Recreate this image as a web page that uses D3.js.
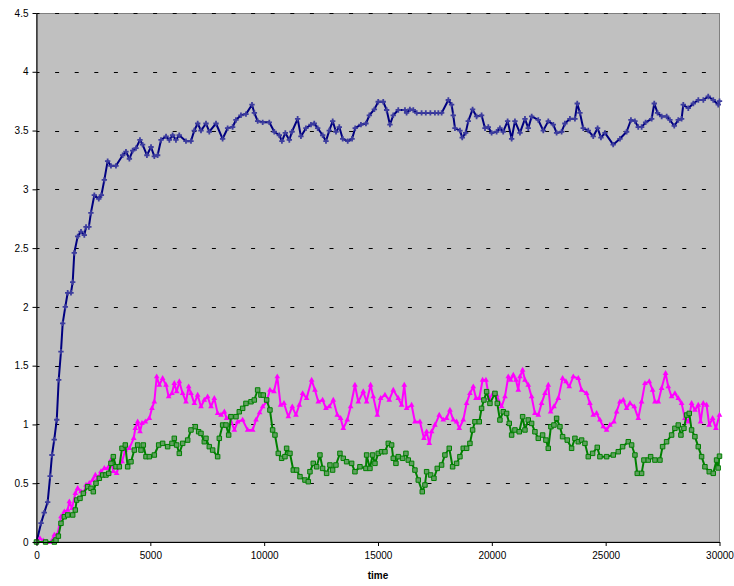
<!DOCTYPE html>
<html lang="en">
<head>
<meta charset="utf-8">
<title>time series</title>
<script src="https://d3js.org/d3.v7.min.js"></script>
<style>
  body { margin: 0; background: #fff; }
  svg text { font-family: "Liberation Sans", Arial, sans-serif; }
</style>
</head>
<body>
<svg id="chart" width="734" height="586"></svg>
<script>
// values (time, value)
var blueT = [0,200,340,490,600,680,780,890,975,1075,1150,1265,1370,1515,1590,1660,1810,1955,2100,2175,2300,2390,2540,2735,2850,2980,3125,3270,3490,3785,3930,4080,4225,4370,4545,4660,4850,5030,5175,5320,5470,5690,5835,5980,6125,6270,6565,6785,6930,7080,7225,7445,7590,7885,8175,8395,8615,8760,8980,9200,9465,9570,9715,9935,10225,10445,10665,10780,10930,11105,11220,11470,11615,11835,12055,12200,12350,12570,12715,12860,13010,13155,13300,13450,13670,13860,14000,14250,14470,14620,14840,15010,15230,15380,15525,15670,15890,16185,16256,16400,16550,16700,16915,17100,17300,17500,17650,17795,18090,18233,18306,18380,18600,18700,18850,18965,19155,19330,19550,19700,19845,19990,20210,20356,20500,20693,20870,21015,21235,21455,21600,21750,22040,22260,22480,22700,22845,23065,23210,23430,23650,23752,23870,24015,24235,24455,24645,24793,24970,25330,25627,25920,26110,26285,26430,26580,26755,27020,27135,27280,27460,27680,27820,28013,28190,28335,28410,28630,28850,29070,29290,29505,29725,29945,30000];
var blueV = [0,0.16,0.25,0.34,0.56,0.74,0.87,1.04,1.38,1.62,1.86,2.0,2.12,2.12,2.21,2.46,2.6,2.64,2.61,2.68,2.68,2.8,2.95,2.92,2.95,3.08,3.24,3.2,3.2,3.29,3.32,3.26,3.33,3.35,3.42,3.38,3.29,3.36,3.28,3.29,3.42,3.45,3.42,3.46,3.42,3.46,3.41,3.41,3.5,3.56,3.5,3.56,3.49,3.56,3.43,3.52,3.53,3.59,3.63,3.64,3.72,3.65,3.58,3.57,3.57,3.49,3.46,3.41,3.48,3.42,3.49,3.6,3.45,3.52,3.55,3.56,3.52,3.46,3.41,3.5,3.58,3.49,3.53,3.43,3.41,3.43,3.52,3.55,3.56,3.63,3.68,3.745,3.745,3.675,3.55,3.63,3.675,3.675,3.65,3.68,3.675,3.65,3.65,3.65,3.65,3.65,3.65,3.65,3.76,3.72,3.63,3.52,3.5,3.44,3.48,3.58,3.68,3.62,3.63,3.52,3.53,3.48,3.49,3.52,3.49,3.58,3.43,3.58,3.48,3.6,3.52,3.62,3.59,3.5,3.58,3.55,3.48,3.49,3.56,3.6,3.6,3.73,3.65,3.52,3.5,3.45,3.52,3.44,3.48,3.38,3.43,3.49,3.59,3.58,3.53,3.53,3.57,3.6,3.73,3.65,3.62,3.62,3.59,3.54,3.59,3.6,3.72,3.69,3.73,3.76,3.76,3.79,3.76,3.72,3.75];

var pinkT = [0,150,300,450,640,783,930,1076,1222,1370,1442,1560,1705,1808,1955,2100,2175,2320,2467,2584,2686,2833,2980,3125,3272,3375,3520,3610,3755,3900,4077,4270,4340,4443,4546,4634,4780,4956,5073,5175,5280,5395,5540,5690,5805,5950,6053,6156,6273,6420,6566,6683,6786,6932,7078,7225,7370,7517,7664,7810,7957,8103,8250,8350,8498,8690,8835,9055,9275,9495,9640,9800,9935,10108,10254,10430,10576,10723,10870,11060,11235,11396,11543,11690,11865,12085,12230,12377,12567,12714,12860,13036,13212,13358,13475,13650,13797,13987,14134,14353,14500,14675,14793,14968,15115,15305,15495,15671,15890,16037,16154,16257,16476,16622,16842,17018,17135,17252,17355,17500,17690,17867,18013,18160,18306,18453,18570,18745,18892,19038,19185,19302,19448,19595,19741,19887,20063,20210,20430,20576,20722,20825,20942,21060,21161,21235,21352,21455,21600,21747,21893,22040,22186,22333,22479,22582,22728,22918,23108,23255,23401,23577,23797,23943,24163,24309,24455,24602,24748,24895,25041,25187,25363,25480,25627,25773,25920,26066,26257,26432,26578,26725,26915,27061,27164,27310,27456,27632,27750,27896,28042,28189,28335,28481,28628,28774,28920,29067,29169,29286,29433,29550,29696,29843,30000];
var pinkV = [0,0.03,0.01,0,0,0.06,0.07,0.215,0.258,0.272,0.343,0.286,0.414,0.457,0.428,0.428,0.485,0.5,0.527,0.57,0.542,0.6,0.627,0.627,0.697,0.6,0.584,0.64,0.683,0.782,0.797,0.882,0.967,1.023,0.938,1.009,1.023,1.052,1.137,1.193,1.406,1.335,1.392,1.335,1.236,1.264,1.35,1.279,1.364,1.264,1.193,1.321,1.264,1.179,1.25,1.151,1.208,1.236,1.151,1.222,1.094,1.08,1.108,1.052,1.066,0.952,1.023,1.038,0.952,0.952,1.038,1.1,1.151,1.193,1.293,1.279,1.406,1.165,1.179,1.066,1.151,1.08,1.165,1.264,1.222,1.378,1.293,1.193,1.208,1.137,1.151,1.208,1.08,1.052,0.967,1.038,1.151,1.335,1.193,1.279,1.193,1.335,1.236,1.08,1.222,1.25,1.208,1.293,1.222,1.165,1.335,1.137,1.165,1.023,1.023,0.882,0.938,0.839,0.938,0.995,1.08,1.038,1.052,1.123,1.038,1.023,0.967,1.038,1.179,1.264,1.321,1.222,1.222,1.378,1.378,1.222,1.264,1.25,1.151,1.236,1.406,1.378,1.42,1.378,1.293,1.406,1.463,1.378,1.335,1.236,1.094,1.08,1.179,1.264,1.335,1.108,1.151,1.222,1.392,1.364,1.321,1.406,1.392,1.293,1.264,1.179,1.08,1.094,1.038,0.981,0.952,0.995,1.023,1.108,1.193,1.208,1.137,1.179,1.151,1.052,1.193,1.349,1.364,1.293,1.193,1.193,1.307,1.435,1.321,1.236,1.264,1.222,1.179,1.052,1.023,1.179,1.123,1.165,1.023,1.179,1.165,0.995,1.052,0.967,1.08];

var greenT = [0,400,783,856,960,1076,1222,1370,1590,1705,1764,1910,2057,2247,2394,2496,2613,2760,2906,3052,3170,3272,3375,3491,3638,3755,3900,4004,4150,4297,4443,4590,4692,4810,4956,5175,5366,5540,5760,5950,6053,6156,6273,6420,6640,6786,6976,7122,7225,7370,7444,7590,7737,7957,8030,8176,8323,8440,8542,8762,8908,9055,9201,9421,9567,9713,9860,9961,10108,10254,10371,10474,10620,10767,10913,10986,11133,11279,11425,11572,11792,11938,12011,12157,12304,12450,12567,12743,12889,13006,13153,13328,13475,13621,13841,13987,14207,14470,14500,14646,14763,14866,15012,15159,15305,15451,15598,15671,15788,15890,16080,16227,16330,16476,16622,16769,16945,17062,17135,17311,17457,17603,17793,17940,18130,18277,18453,18599,18745,18892,19038,19155,19258,19448,19550,19653,19770,19917,20137,20239,20356,20503,20649,20766,20869,21015,21205,21352,21455,21600,21747,21893,22040,22230,22377,22479,22596,22728,22845,22991,23108,23313,23504,23650,23797,23943,24089,24236,24426,24631,24748,25041,25334,25553,25744,25993,26140,26286,26388,26578,26681,26871,26974,27164,27384,27500,27676,27896,28042,28189,28306,28437,28555,28672,28774,28920,29067,29213,29360,29550,29726,29872,29940,30000];
var greenV = [0,0,0,0.017,0.05,0.159,0.215,0.23,0.23,0.272,0.357,0.371,0.414,0.471,0.457,0.428,0.5,0.542,0.57,0.57,0.584,0.669,0.726,0.64,0.64,0.797,0.825,0.64,0.683,0.782,0.825,0.782,0.825,0.726,0.726,0.74,0.825,0.839,0.811,0.839,0.882,0.825,0.754,0.839,0.867,0.953,0.981,0.938,0.924,0.853,0.882,0.811,0.782,0.726,0.882,0.995,0.995,0.91,1.066,1.066,1.108,1.137,1.179,1.193,1.208,1.293,1.25,1.25,1.208,1.123,0.953,0.91,0.754,0.712,0.726,0.797,0.754,0.612,0.612,0.556,0.527,0.513,0.598,0.669,0.64,0.74,0.626,0.584,0.655,0.612,0.655,0.754,0.712,0.683,0.669,0.598,0.64,0.626,0.74,0.626,0.74,0.669,0.754,0.768,0.768,0.839,0.825,0.712,0.669,0.726,0.712,0.754,0.697,0.669,0.612,0.527,0.428,0.485,0.598,0.57,0.542,0.626,0.655,0.74,0.797,0.64,0.669,0.726,0.797,0.797,0.839,0.953,1.023,1.023,1.137,1.208,1.279,1.179,1.264,1.179,1.038,1.108,1.094,1.009,0.91,0.953,0.938,1.066,0.953,1.038,1.009,0.938,0.882,0.91,0.867,0.797,0.981,0.995,1.052,0.981,0.896,0.867,0.797,0.882,0.853,0.867,0.839,0.726,0.754,0.805,0.726,0.726,0.74,0.768,0.811,0.853,0.825,0.74,0.584,0.584,0.697,0.697,0.726,0.697,0.697,0.811,0.853,0.91,0.967,0.995,0.91,0.967,1.08,1.094,0.953,0.896,0.811,0.726,0.64,0.598,0.584,0.697,0.63,0.73];

var yTicks = [0, 0.5, 1, 1.5, 2, 2.5, 3, 3.5, 4, 4.5];
var xTicks = [0, 5000, 10000, 15000, 20000, 25000, 30000];
var xTitle = "time";

(function () {
  var svg = d3.select("#chart"),
      left = 36.5, right = 719.5, plotTop = 13, bottom = 542;

  var x = d3.scaleLinear().domain([0, 30000]).range([left, right]);
  var y = d3.scaleLinear().domain([0, 4.5]).range([bottom, plotTop]);

  // plot area
  svg.append("rect")
    .attr("x", left).attr("y", plotTop + 0.5)
    .attr("width", right - left).attr("height", bottom - plotTop - 0.5)
    .attr("fill", "#c0c0c0")
    .attr("stroke", "#808080");

  // dashed grid
  svg.append("g").selectAll("line")
    .data(yTicks.slice(1))
    .join("line")
    .attr("x1", left).attr("x2", right)
    .attr("y1", function(d) { return Math.round(y(d)) + 0.5; })
    .attr("y2", function(d) { return Math.round(y(d)) + 0.5; })
    .attr("stroke", "#000")
    .attr("stroke-width", 1)
    .attr("stroke-dasharray", "4,15.6")
    .attr("stroke-dashoffset", 1);

  function drawSeries(ts, vs, color, width) {
    var pts = ts.map(function(t, i) { return [t, vs[i]]; });
    var line = d3.line()
      .x(function(d) { return x(d[0]); })
      .y(function(d) { return y(d[1]); });
    svg.append("path")
      .datum(pts)
      .attr("fill", "none")
      .attr("stroke", color)
      .attr("stroke-width", width)
      .attr("stroke-linejoin", "round")
      .attr("d", line);
    return pts;
  }

  function pos(d) { return "translate(" + x(d[0]) + "," + y(d[1]) + ")"; }

  // blue series, cross markers
  var bluePts = drawSeries(blueT, blueV, "#000080", 2);
  svg.append("g").selectAll("path")
    .data(bluePts)
    .join("path")
    .attr("transform", pos)
    .attr("d", d3.symbol().type(d3.symbolCross).size(16))
    .attr("fill", "#3d3d9e");

  // magenta series, triangles
  var pinkPts = drawSeries(pinkT, pinkV, "#ff00ff", 2);
  svg.append("g").selectAll("path")
    .data(pinkPts)
    .join("path")
    .attr("transform", pos)
    .attr("d", d3.symbol().type(d3.symbolTriangle).size(14))
    .attr("fill", "#ff00ff");

  // green series, squares
  var greenPts = drawSeries(greenT, greenV, "#008000", 2);
  svg.append("g").selectAll("path")
    .data(greenPts)
    .join("path")
    .attr("transform", pos)
    .attr("d", d3.symbol().type(d3.symbolSquare).size(20))
    .attr("fill", "#5fa05f")
    .attr("stroke", "#008000")
    .attr("stroke-width", 1);

  // axes
  var yAxis = svg.append("g")
    .attr("transform", "translate(" + left + ",0)")
    .call(d3.axisLeft(y).tickValues(yTicks).tickSize(4).tickSizeOuter(0).tickPadding(4)
      .tickFormat(function(d) { return String(d); }));
  var xAxis = svg.append("g")
    .attr("transform", "translate(0," + bottom + ")")
    .call(d3.axisBottom(x).tickValues(xTicks).tickSize(4).tickSizeOuter(0).tickPadding(6)
      .tickFormat(function(d) { return String(d); }));

  [yAxis, xAxis].forEach(function(g) {
    g.attr("font-family", "Liberation Sans, Arial, sans-serif").attr("font-size", 10);
    g.selectAll("text").attr("fill", "#000");
    g.selectAll("line").attr("stroke", "#000");
    g.select(".domain").attr("stroke", "#000");
  });

  svg.append("text")
    .attr("x", (left + right) / 2)
    .attr("y", 579)
    .attr("text-anchor", "middle")
    .attr("font-size", 10)
    .attr("font-weight", "bold")
    .text(xTitle);
})();
</script>
</body>
</html>
